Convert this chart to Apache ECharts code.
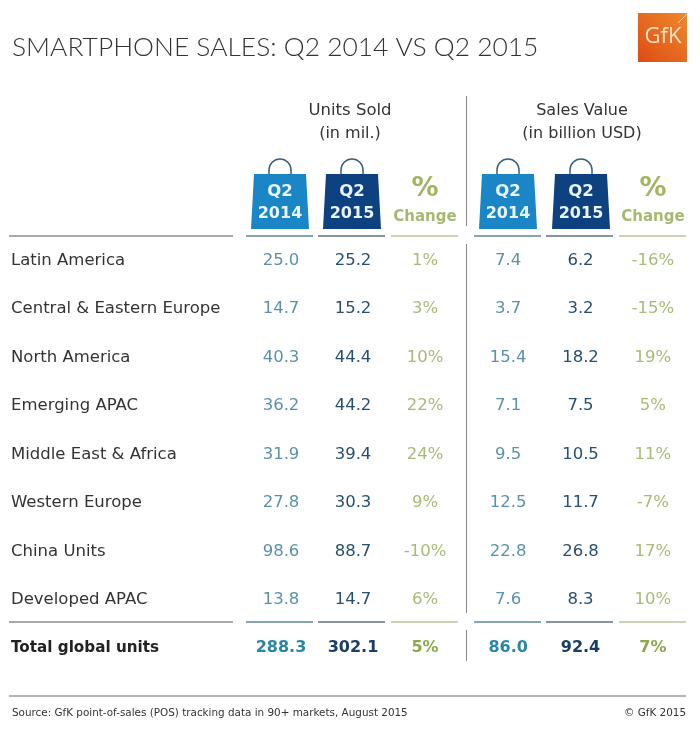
<!DOCTYPE html>
<html lang="en">
<head>
    <meta charset="UTF-8">
    <title>Smartphone sales</title>
    <script src="https://cdn.jsdelivr.net/npm/echarts@6/dist/echarts.min.js"></script>
    <style>
        html, body { margin: 0; padding: 0; background: #fff; }
        #main { width: 700px; height: 744px; }
    </style>
</head>
<body>
    <div id="main"></div>
    <script>
        var regions = ['Latin America', 'Central & Eastern Europe', 'North America', 'Emerging APAC',
            'Middle East & Africa', 'Western Europe', 'China Units', 'Developed APAC', 'Total global units'];
        var columns = ['2014', '2015', 'change'];

        var units2014 = [25.0, 14.7, 40.3, 36.2, 31.9, 27.8, 98.6, 13.8, 288.3];
        var units2015 = [25.2, 15.2, 44.4, 44.2, 39.4, 30.3, 88.7, 14.7, 302.1];
        var unitsChange = [1, 3, 10, 22, 24, 9, -10, 6, 5];
        var value2014 = [7.4, 3.7, 15.4, 7.1, 9.5, 12.5, 22.8, 7.6, 86.0];
        var value2015 = [6.2, 3.2, 18.2, 7.5, 10.5, 11.7, 26.8, 8.3, 92.4];
        var valueChange = [-16, -15, 19, 5, 11, -7, 17, 10, 7];

        var FONT = '"DejaVu Sans", sans-serif';
        var C2014 = '#5a93a8', C2015 = '#27506f', CCHG = '#a9ba78', CTXT = '#333333';

        function textSeries (name, grid, col, values, color, strongColor, isPct) {
            return {
                name: name,
                type: 'scatter',
                xAxisIndex: grid,
                yAxisIndex: grid,
                symbolSize: 0,
                silent: true,
                itemStyle: { opacity: 1 },
                data: values.map(function (v, i) {
                    var last = i === values.length - 1;
                    return {
                        value: [col, i, v],
                        label: {
                            show: true,
                            position: 'inside',
                            formatter: isPct ? v + '%' : v.toFixed(1),
                            fontFamily: FONT,
                            fontSize: last ? 16 : 16.5,
                            fontWeight: last ? 600 : 400,
                            color: last ? strongColor : color,
                            opacity: 1
                        }
                    };
                })
            };
        }

        function line (x1, y1, x2, y2, color, w) {
            return { type: 'line', shape: { x1: x1, y1: y1, x2: x2, y2: y2 }, style: { stroke: color, lineWidth: w }, silent: true };
        }

        function text (x, y, str, size, color, weight, align, family) {
            return {
                type: 'text', x: x, y: y, silent: true,
                style: {
                    text: str, fontSize: size, fill: color, fontWeight: weight || 400,
                    align: align || 'center', verticalAlign: 'middle', fontFamily: family || FONT
                }
            };
        }

        // shopping bag header icon, x is the left edge of the bag bottom
        function bag (x, color, year) {
            return [
                {
                    type: 'arc', silent: true,
                    shape: { cx: x + 29, cy: 170, r: 11, startAngle: Math.PI, endAngle: 2 * Math.PI, clockwise: true },
                    style: { stroke: '#3b5f7a', lineWidth: 1.5, fill: null }
                },
                line(x + 18, 170, x + 18, 175, '#3b5f7a', 1.5),
                line(x + 40, 170, x + 40, 175, '#3b5f7a', 1.5),
                { type: 'polygon', shape: { points: [[x + 3, 174], [x + 55, 174], [x + 58, 229], [x, 229]] }, style: { fill: color }, silent: true },
                text(x + 29, 192, 'Q2', 16.5, '#e8f3fa', 700),
                text(x + 29, 214, year, 16, '#e8f3fa', 700)
            ];
        }

        function pctHead (x) {
            return [
                text(x, 189, '%', 27, '#a3b55f', 700),
                text(x, 217, 'Change', 15, '#a7b970', 700)
            ];
        }

        var graphics = [
            text(12, 47, 'SMARTPHONE SALES: Q2 2014 VS Q2 2015', 26.4, '#333333', 300, 'left', 'Lato, sans-serif'),
            {
                type: 'rect', silent: true,
                shape: { x: 638, y: 13, width: 49, height: 49 },
                style: {
                    fill: new echarts.graphic.LinearGradient(1, 0, 0, 1, [
                        { offset: 0, color: '#ef8a2b' }, { offset: 1, color: '#dd4a16' }
                    ])
                }
            },
            line(678, 23, 687, 14, '#f6c890', 1),
            text(663, 37, 'GfK', 22, '#fbe3c8', 400, 'center', '"Open Sans", sans-serif'),

            text(350, 111, 'Units Sold', 16.5, CTXT),
            text(350, 134, '(in mil.)', 16, CTXT),
            text(582, 111, 'Sales Value', 16, CTXT),
            text(582, 134, '(in billion USD)', 16, CTXT),

            line(466.5, 96, 466.5, 226, '#8a8a8a', 1),
            line(466.5, 244, 466.5, 613, '#8a8a8a', 1),
            line(466.5, 630, 466.5, 661, '#8a8a8a', 1),

            line(9, 696, 686, 696, '#9a9a9a', 1.5),
            text(12, 713, 'Source: GfK point-of-sales (POS) tracking data in 90+ markets, August 2015', 10.4, '#333', 400, 'left'),
            text(686, 713, '© GfK 2015', 10.4, '#333', 400, 'right')
        ];
        graphics = graphics.concat(bag(251, '#1a86c6', '2014'), bag(323, '#0e417f', '2015'),
            bag(479, '#1a86c6', '2014'), bag(552, '#0e417f', '2015'), pctHead(425), pctHead(653));

        // rule segments under the header and above the total row
        [236, 622].forEach(function (y) {
            graphics.push(line(9, y, 233, y, '#8c8c8c', 1.5));
            [246, 474].forEach(function (x) {
                graphics.push(line(x, y, x + 67, y, '#5f8795', 1.5));
                graphics.push(line(x + 72, y, x + 139, y, '#5d7180', 1.5));
                graphics.push(line(x + 145, y, x + 212, y, '#b9c59a', 1.5));
            });
        });

        var myChart = echarts.init(document.getElementById('main'));
        myChart.setOption({
            animation: false,
            backgroundColor: '#fff',
            grid: [
                { left: 245, top: 236.5, width: 216, height: 436 },
                { left: 472, top: 236.5, width: 217, height: 436 }
            ],
            xAxis: [0, 1].map(function (i) {
                return { type: 'category', gridIndex: i, data: columns, show: false };
            }),
            yAxis: [
                {
                    type: 'category', gridIndex: 0, data: regions, inverse: true,
                    axisLine: { show: false }, axisTick: { show: false },
                    axisLabel: {
                        margin: 234,
                        align: 'left',
                        interval: 0,
                        fontFamily: FONT,
                        fontSize: 16.5,
                        color: CTXT,
                        formatter: function (v) {
                            return v === 'Total global units' ? '{b|' + v + '}' : v;
                        },
                        rich: { b: { fontFamily: FONT, fontSize: 15.2, fontWeight: 700, color: '#222' } }
                    }
                },
                { type: 'category', gridIndex: 1, data: regions, inverse: true, show: false }
            ],
            series: [
                textSeries('Units Q2 2014', 0, 0, units2014, C2014, '#2a87a6', false),
                textSeries('Units Q2 2015', 0, 1, units2015, C2015, '#1a3d66', false),
                textSeries('Units % change', 0, 2, unitsChange, CCHG, '#8fa84f', true),
                textSeries('Value Q2 2014', 1, 0, value2014, C2014, '#2a87a6', false),
                textSeries('Value Q2 2015', 1, 1, value2015, C2015, '#1a3d66', false),
                textSeries('Value % change', 1, 2, valueChange, CCHG, '#8fa84f', true)
            ],
            graphic: graphics
        });
    </script>
</body>
</html>
